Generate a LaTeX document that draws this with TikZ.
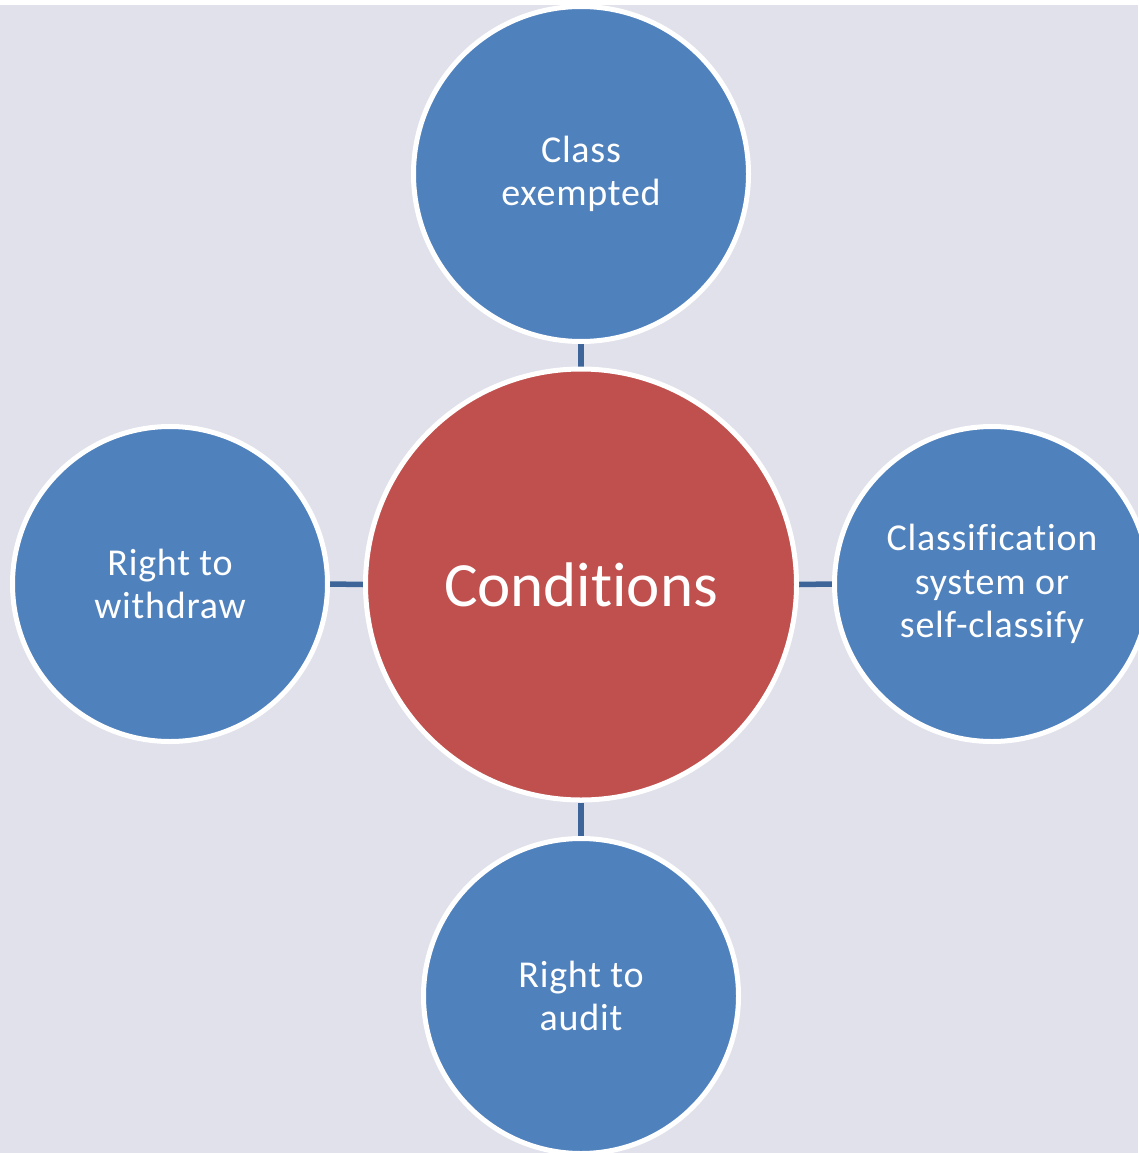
\documentclass[tikz,border=0pt]{standalone}
\usepackage{fontspec}
\setmainfont{Carlito}[Ligatures={NoCommon}]
\newfontfamily\bubblefont{Carlito}[Ligatures={NoCommon}, LetterSpace=2.0]
\usetikzlibrary{backgrounds}
\definecolor{bgcol}{HTML}{E0E1EB}
\definecolor{bluecol}{HTML}{4F81BD}
\definecolor{redcol}{HTML}{C0504D}
\definecolor{linkcol}{HTML}{3D6599}
\tikzset{
  bubble/.style={circle, fill=bluecol, draw=white, line width=5pt, inner sep=0pt,
    text=white, align=center, font=\bubblefont\fontsize{38}{43.5}\selectfont},
  hub/.style={circle, fill=redcol, draw=white, line width=5pt, inner sep=0pt,
    text=white, align=center, font=\fontsize{63}{75}\selectfont},
  link/.style={draw=linkcol, line width=5.5pt}
}
\begin{document}
\begin{tikzpicture}[x=1pt,y=-1pt]
\useasboundingbox (0,0) rectangle (1138,1153);
\node[hub, minimum size=431pt] (c) at (581,584.5) {Conditions};
\node[bubble, minimum size=335pt] (t) at (581,174) {Class\\exempted};
\node[bubble, minimum size=315pt] (l) at (170,584) {Right to\\withdraw};
\node[bubble, minimum size=315pt] (r) at (992,584) {Classification\\system or\\self-classify};
\node[bubble, minimum size=315pt] (b) at (581,996) {Right to\\audit};
\begin{scope}[on background layer]
  \fill[white] (0,0) rectangle (1138,1153);
  \fill[bgcol] (0,5) rectangle (1138,1153);
  \draw[link] (t.south) -- (c.north);
  \draw[link] (c.south) -- (b.north);
  \draw[link] (l.east) -- (c.west);
  \draw[link] (c.east) -- (r.west);
\end{scope}
\end{tikzpicture}
\end{document}
